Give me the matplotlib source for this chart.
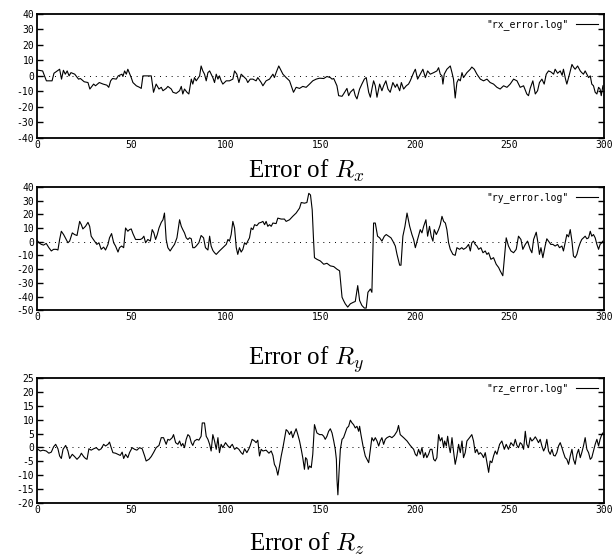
import matplotlib
matplotlib.use("Agg")
from matplotlib import pyplot as plt

# values (frame index, error)
rx_t = [0, 3, 5, 8, 9, 12, 13, 14, 15, 16, 17, 18, 20, 22, 23, 25, 27, 28, 30, 31,
        33, 35, 37, 38, 39, 40, 42, 43, 45, 45.5, 46.4, 47.3, 48.1, 49.9, 50.8, 52.6, 54.3, 55.2, 56.1, 60.5,
        61.7, 63.1, 64.6, 65.8, 66.7, 68.4, 69.3, 71.1, 72.0, 73.7, 75.5, 76.4, 77.2, 78.1, 79.4, 80.4, 81.7, 82.5, 83.4, 84.3,
        86.1, 86.9, 87.8, 88.7, 89.6, 90.5, 91.4, 93.1, 94.0, 94.9, 95.8, 96.6, 97.5, 98.4, 100.2, 101.9, 103.7, 104.6, 105.8, 106.9,
        108.1, 109.0, 110.8, 111.6, 112.9, 114.3, 116.0, 116.9, 118.7, 119.6, 121.3, 123.1, 124.9, 125.7, 126.6, 128.0, 129.3, 130.2, 131.9, 133.7,
        134.6, 135.8, 137.2, 139.0, 140.7, 142.5, 144.3, 146.0, 147.8, 149.6, 151.8, 153.5, 155.3, 156.2, 157.1, 158.8, 159.7, 161.5, 162.3, 164.1,
        165.0, 165.9, 167.6, 168.5, 169.4, 170.8, 172.0, 173.3, 174.3, 175.6, 176.5, 177.3, 178.2, 179.1, 180.0, 181.4, 182.6, 183.5, 184.7, 185.8,
        187.0, 188.4, 189.7, 190.6, 192.0, 192.9, 194.1, 195.5, 196.7, 197.6, 199.4, 200.3, 201.5, 202.9, 204.3, 205.6, 206.8, 208.2, 210.0, 211.7,
        212.6, 213.5, 214.4, 214.9, 215.6, 217.0, 218.8, 219.7, 220.5, 221.4, 222.3, 223.2, 224.1, 225.0, 225.8, 227.6, 229.4, 230.2, 231.5, 232.9,
        234.7, 236.4, 238.2, 239.9, 241.7, 243.5, 245.2, 247.0, 248.8, 250.5, 252.3, 254.1, 255.8, 257.6, 259.3, 260.2, 261.1, 262.5, 263.8, 265.0,
        266.0, 267.3, 268.5, 269.6, 270.8, 272.0, 273.5, 274.3, 275.6, 277.0, 278.0, 278.7, 279.8, 280.5, 281.9, 283.2, 284.0, 284.9, 286.2, 287.6,
        288.4, 289.3, 290.2, 291.1, 292.0, 292.9, 293.7, 294.6, 295.5, 296.4, 297.3, 298.1, 298.7, 299.6]
rx_err = [3.8, 3.2, -3.2, -3.2, 1.7, 4.3, -2.1, 3.6, 1.1, 3.2, 0, 2.1, 1.1, -2.1, -1.7, -3.8, -4.3, -8.5, -5.3, -6.4,
          -4.3, -5.3, -6.0, -7.4, -3.2, -1.7, -2.1, 0, 1.1, -0.4, 3.2, 1.1, 4.3, -1.1, -4.3, -6.4, -7.4, -8.1, 0, 0,
          -10.6, -5.3, -8.5, -7.4, -9.6, -8.1, -6.8, -8.5, -10.6, -11.3, -9.6, -6.8, -11.7, -8.5, -10.6, -11.7, -2.1, -5.3, -1.1, -3.2,
          0, 6.4, 3.2, 1.1, -3.2, 2.1, 3.2, -1.1, -4.3, 1.1, -2.1, 0, -3.2, -5.3, -3.2, -3.2, -2.1, 3.2, 1.1, -4.3,
          1.1, 0, -2.1, -4.3, -2.1, -2.1, -3.2, -1.1, -4.3, -6.4, -3.2, -2.1, 1.1, -1.1, 2.1, 6.4, 3.2, 1.1, -1.1, -3.2,
          -6.4, -10.6, -7.4, -8.1, -6.8, -7.4, -5.3, -3.2, -2.1, -1.5, -1.7, -0.4, -1.1, -2.1, -1.7, -6.4, -12.8, -13.2, -11.7, -8.1,
          -12.8, -10.6, -8.5, -12.8, -14.9, -8.5, -5.3, -2.1, -1.1, -10.6, -13.8, -8.5, -3.2, -6.4, -13.8, -5.3, -9.6, -6.4, -3.2, -8.5,
          -10.6, -4.3, -7.4, -5.3, -9.6, -4.3, -8.5, -6.4, -5.3, -3.2, 2.1, 4.3, -2.1, 1.1, 4.3, -1.1, 3.2, 1.1, 2.1, 3.2,
          5.3, 1.1, 0, -5.3, 1.1, 4.3, 6.4, 2.1, -2.1, -14.3, -4.3, -2.1, -3.2, 2.1, -1.1, 2.1, 4.3, 5.7, 4.3, 1.1,
          -2.1, -3.2, -2.1, -4.3, -5.3, -7.4, -8.5, -6.4, -7.4, -5.3, -2.1, -3.2, -7.4, -6.4, -11.7, -12.8, -8.1, -3.2, -11.7, -9.6,
          -4.3, -2.1, -5.3, 1.1, 3.2, 2.6, 1.1, 4.3, 1.7, 3.2, 0.4, 4.3, -2.1, -5.3, 1.1, 7.4, 5.7, 4.3, 6.4, 3.2,
          2.1, 1.1, 3.2, 1.1, -1.1, 0, -5.3, -6.4, -10.6, -11.7, -7.4, -8.5, -12.8, -6.4]

ry_t = [0, 1.1, 2.3, 3.5, 4.9, 6.3, 7.6, 8.8, 10.2, 11.1, 12.0, 12.9, 14.1, 15.5, 16.4, 17.3, 18.7, 19.9, 21.2, 22.6,
        23.5, 24.3, 25.7, 27.0, 27.9, 28.7, 29.6, 30.5, 31.7, 32.8, 34.0, 35.3, 36.3, 37.6, 38.4, 39.5, 40.6, 41.6, 42.9, 43.7,
        44.8, 45.9, 46.9, 48.1, 49.0, 49.9, 50.8, 52.2, 53.4, 54.7, 55.7, 56.6, 57.5, 58.7, 60.0, 61.0, 61.9, 62.8, 63.7, 64.6,
        65.8, 66.7, 67.5, 68.4, 69.3, 70.5, 71.6, 72.8, 74.1, 75.5, 76.4, 77.2, 78.1, 79.0, 79.9, 80.8, 81.7, 82.5, 83.4, 84.3,
        85.7, 86.9, 88.2, 89.2, 90.5, 91.4, 92.2, 93.1, 94.0, 94.9, 96.6, 98.4, 100.2, 101.1, 101.9, 102.8, 103.7, 104.6, 105.5, 106.3,
        107.2, 108.1, 109.0, 109.9, 110.8, 111.6, 112.5, 113.4, 114.3, 115.2, 116.4, 117.5, 118.7, 119.6, 120.5, 121.3, 122.2, 123.1, 124.0, 124.9,
        126.6, 127.5, 129.3, 131.0, 131.9, 133.7, 135.4, 137.2, 139.0, 139.9, 141.6, 142.9, 143.9, 144.8, 145.7, 146.4, 146.9, 148.2, 150.0, 151.8,
        153.5, 155.3, 157.1, 158.8, 160.2, 161.5, 162.3, 163.2, 164.5, 165.9, 167.6, 168.5, 169.8, 170.8, 172.0, 173.3, 174.3, 175.2, 176.5, 177.3,
        178.2, 179.1, 180.3, 181.4, 182.6, 183.9, 184.9, 186.2, 187.4, 188.4, 189.7, 190.6, 192.0, 192.7, 193.7, 194.8, 195.9, 197.3, 198.5, 199.4,
        200.3, 201.5, 202.9, 203.8, 204.7, 205.9, 206.8, 207.8, 208.7, 209.6, 210.3, 211.4, 212.6, 213.5, 214.4, 215.3, 216.2, 217.0, 217.9, 218.8,
        220.2, 221.4, 222.3, 223.7, 224.9, 225.8, 227.2, 228.5, 229.4, 230.2, 231.1, 232.0, 232.9, 233.8, 235.0, 236.1, 237.3, 238.2, 239.1, 240.3,
        241.7, 243.1, 244.4, 245.2, 246.6, 247.4, 248.4, 249.6, 250.9, 252.3, 253.7, 254.9, 256.2, 257.2, 258.5, 259.7, 261.1, 262.0, 262.9, 264.3,
        265.2, 266.0, 266.8, 267.8, 269.0, 269.9, 270.8, 272.0, 273.1, 274.3, 275.6, 276.6, 277.9, 278.7, 279.6, 280.5, 281.4, 282.3, 283.2, 284.0,
        284.9, 285.8, 286.7, 287.6, 288.4, 289.3, 290.2, 291.1, 292.0, 292.9, 293.7, 294.6, 295.5, 296.4, 297.3, 298.1, 299.0, 299.6]
ry_err = [1.2, -0.7, -1.9, -2.4, -1.2, -4.3, -6.7, -5.5, -5.5, -6.0, 1.7, 7.7, 5.3, 1.7, -0.7, 0.5, 6.5, 5.3, 4.6, 14.9,
          12.5, 9.4, 11.3, 14.2, 11.3, 4.1, 2.2, 0.5, -1.9, -0.7, -5.5, -3.9, -6.0, -1.9, 2.9, 6.0, -0.7, -3.1, -7.5, -4.3,
          -3.1, -4.3, 10.1, 7.7, 8.9, 9.4, 6.0, 1.7, 1.7, 1.7, 2.4, 4.1, -0.7, 1.7, 0.5, 8.9, 6.5, 1.7, 5.3, 10.1,
          14.2, 16.1, 21.0, 1.7, -4.3, -6.7, -4.3, -1.9, 2.9, 16.1, 11.3, 8.9, 6.5, 2.9, 1.7, 2.9, 2.2, -4.3, -4.3, -3.1,
          -0.7, 4.6, 2.9, -4.3, -6.0, 4.1, -3.1, -6.3, -8.0, -9.2, -6.7, -4.3, -1.9, 1.7, 0.5, 5.3, 14.9, 10.1, -4.3, -9.2,
          -4.3, -7.5, -5.5, -0.7, -1.9, 0.5, 2.9, 10.1, 8.9, 12.5, 11.8, 13.7, 14.2, 14.9, 12.5, 14.9, 11.3, 12.5, 11.3, 13.7,
          13.3, 17.3, 16.6, 16.6, 14.9, 16.1, 18.6, 21.0, 24.6, 28.7, 28.2, 28.7, 35.4, 34.2, 23.4, 1.7, -11.6, -12.8, -14.0, -16.4,
          -15.7, -17.6, -18.1, -20.0, -21.2, -40.5, -42.9, -45.3, -47.7, -45.3, -44.1, -43.6, -32.0, -42.9, -46.5, -48.4, -48.4, -36.9, -34.5, -36.9,
          13.7, 13.7, 4.1, 2.9, 0.5, 4.1, 5.3, 4.1, 2.9, 0.5, -3.1, -9.2, -17.1, -17.1, 4.1, 11.3, 21.0, 11.3, 5.3, 1.7,
          -4.3, 1.7, 8.9, 6.5, 11.3, 16.1, 4.1, 11.3, 4.1, 0.5, 8.9, 5.3, 8.9, 12.5, 18.6, 14.9, 13.7, 8.9, -0.7, -5.5,
          -9.2, -9.9, -4.3, -5.5, -4.3, -5.5, -4.3, -1.9, -6.7, -0.7, 0.5, -1.9, -3.1, -5.5, -4.3, -8.0, -6.7, -9.2, -8.0, -12.8,
          -11.6, -16.4, -18.8, -21.2, -24.8, -12.8, 2.9, -3.1, -6.7, -8.0, -5.5, 4.1, 1.7, -5.5, -1.9, 0.5, -5.5, -8.0, 1.7, 7.0,
          -0.7, -9.2, -4.3, -11.6, -3.1, 2.2, 0.5, -1.9, -1.9, -3.1, -1.9, -4.3, -3.1, -6.7, -0.7, 5.3, 3.6, 8.9, 0.5, -10.4,
          -11.6, -9.2, -4.3, -0.7, 1.7, 2.9, 4.1, 2.2, 2.9, 7.7, 4.1, 5.3, 2.9, -1.9, -5.5, -1.9, -0.7, 0.5]

rz_t = [0.5, 1.8, 3.2, 4.9, 6.3, 7.6, 8.8, 9.9, 11.1, 12.0, 12.9, 13.8, 15.2, 16.4, 17.3, 18.7, 19.9, 21.2, 22.6, 23.5,
        24.7, 25.7, 26.5, 27.5, 28.7, 30.0, 31.4, 32.8, 34.0, 35.3, 36.3, 37.6, 38.4, 39.3, 40.2, 41.6, 42.9, 44.1, 45.1, 45.9,
        46.9, 48.1, 49.0, 50.4, 51.7, 52.9, 54.3, 55.7, 57.0, 57.8, 59.3, 60.5, 61.7, 63.1, 64.6, 65.8, 67.0, 68.4, 69.3, 70.2,
        71.6, 72.3, 73.4, 74.6, 75.5, 76.4, 77.2, 78.1, 79.0, 79.9, 80.8, 81.7, 82.5, 83.4, 84.7, 85.7, 86.9, 87.5, 88.7, 89.6,
        90.5, 91.4, 92.2, 93.1, 94.0, 94.9, 95.8, 96.6, 97.5, 98.4, 99.8, 101.1, 101.9, 103.4, 104.6, 105.8, 106.9, 108.1, 109.0, 109.9,
        111.1, 112.2, 112.9, 113.9, 115.2, 116.0, 116.9, 117.8, 118.7, 119.6, 121.3, 122.8, 124.0, 124.9, 125.7, 126.6, 127.5, 128.4, 129.3, 130.2,
        131.0, 131.9, 132.8, 133.7, 134.6, 135.4, 136.3, 137.2, 138.1, 139.0, 139.9, 140.7, 141.6, 142.2, 142.9, 143.6, 144.3, 145.2, 146.0, 146.9,
        148.2, 149.6, 150.9, 151.8, 152.6, 153.5, 154.4, 155.3, 156.2, 157.1, 157.9, 158.5, 158.8, 159.3, 159.9, 160.6, 161.5, 162.3, 163.2, 164.1,
        165.0, 165.9, 166.8, 167.6, 168.5, 169.4, 170.3, 170.8, 171.5, 172.6, 173.8, 175.6, 176.5, 177.3, 178.2, 179.1, 180.0, 180.9, 181.7, 182.6,
        183.5, 184.4, 185.3, 186.7, 187.9, 189.2, 190.6, 191.4, 192.3, 194.1, 195.9, 197.6, 199.4, 200.3, 201.1, 202.0, 202.9, 203.8, 204.7, 205.6,
        206.4, 207.3, 208.2, 209.1, 210.0, 210.8, 211.7, 212.6, 213.5, 214.4, 215.3, 215.8, 216.7, 217.4, 218.1, 218.8, 219.7, 220.5, 221.4, 222.3,
        223.2, 224.1, 225.0, 225.8, 226.7, 227.6, 229.0, 230.2, 231.1, 232.0, 232.9, 233.8, 234.7, 235.5, 236.4, 237.3, 238.2, 239.1, 239.9, 240.8,
        241.7, 242.6, 243.5, 244.9, 246.1, 247.4, 248.4, 249.6, 250.9, 252.3, 253.2, 254.1, 254.9, 255.8, 256.7, 257.6, 258.5, 259.3, 260.2, 261.1,
        262.0, 262.9, 263.8, 264.6, 265.5, 266.4, 267.3, 268.2, 269.0, 269.9, 270.8, 271.7, 272.6, 273.5, 274.3, 275.2, 276.1, 277.0, 277.9, 278.7,
        279.6, 280.5, 281.4, 282.3, 283.2, 284.0, 284.9, 285.8, 286.7, 287.6, 288.4, 289.3, 290.2, 291.1, 292.0, 292.9, 293.7, 294.6, 295.5, 296.4,
        297.3, 298.1, 299.0, 299.6]
rz_err = [-0.7, -1.3, -1.0, -1.3, -2.1, -1.7, 0.2, 1.1, -0.5, -3.1, -4.0, -0.7, 0.7, -1.3, -4.0, -2.5, -3.3, -4.3, -3.3, -2.1,
          -3.3, -4.0, -4.3, -0.5, -1.0, -0.5, -0.1, -1.0, -0.5, 1.1, 0.5, 1.1, 1.9, -0.1, -1.9, -2.1, -2.5, -2.9, -1.7, -4.0,
          -2.5, -3.7, -1.9, -0.1, -0.7, -1.0, -0.1, -0.5, -3.1, -4.9, -4.3, -3.3, -1.9, -0.1, 0.7, 3.5, 3.5, 1.1, 2.9, 2.6,
          3.5, 4.6, 1.7, 1.1, 2.3, 0.5, 1.4, -0.1, 2.9, 4.6, 4.0, 1.7, 0.7, 2.3, 2.9, 2.6, 4.0, 8.8, 8.8, 4.0,
          2.9, 1.1, -1.3, 4.6, 2.3, -0.7, 3.5, -1.9, 1.1, -0.1, 1.7, 0.5, -0.1, 1.1, -0.7, -0.1, -0.7, -1.9, -2.5, -0.5,
          -1.9, -0.5, 0.7, 2.9, 2.3, 1.7, 2.6, -3.1, -0.7, -1.3, -1.0, -2.1, -1.3, -2.9, -6.1, -7.3, -10.0, -6.7, -3.1, -0.1,
          2.9, 6.4, 5.8, 4.6, 5.8, 3.5, 5.2, 6.7, 4.6, 2.3, -0.7, -3.7, -7.9, -3.7, -4.3, -7.9, -6.7, -7.3, -2.5, 8.2,
          5.2, 4.6, 4.6, 4.0, 2.9, 4.0, 5.8, 6.7, 5.2, 2.3, -0.7, -4.3, -11.4, -17.1, -9.0, -0.7, 2.9, 3.5, 5.2, 7.0,
          7.6, 9.8, 8.8, 8.2, 7.0, 7.6, 5.8, 7.6, 4.6, 0.5, -3.1, -5.5, -0.7, 3.5, 2.3, 3.5, 2.3, 0.5, 2.3, 3.5,
          1.1, 2.9, 3.5, 4.0, 3.5, 4.3, 5.8, 7.9, 4.6, 3.5, 2.3, 0.7, -0.7, -2.5, -3.1, -0.7, -2.5, -0.1, -3.7, -1.9,
          -3.7, -2.5, -0.7, -0.7, -4.3, -4.9, -3.7, 4.6, 2.3, 3.5, -0.1, 2.3, 0.5, 4.0, 0.5, -1.9, 3.5, -1.3, -6.1, -3.1,
          1.1, -1.9, 2.3, -3.7, -1.9, 2.3, 3.5, 4.6, 2.3, -1.9, -0.7, -2.5, -1.9, -2.5, -3.7, -1.9, -5.5, -9.0, -4.9, -5.5,
          -3.1, -1.3, -2.5, 1.1, 2.3, -0.7, 1.1, -0.7, 1.7, 0.5, 2.9, 0.7, -0.1, 1.7, 1.1, -0.7, 5.8, 1.1, -0.1, 3.5,
          2.3, 2.9, 3.8, 2.9, 1.7, 2.9, 0.5, -1.3, -0.1, 2.9, -1.3, -2.5, -0.7, -2.9, -3.1, -1.9, 0.5, 1.7, -0.1, -1.9,
          -3.7, -4.3, -6.1, -3.1, -0.7, -4.3, -6.1, -2.5, -0.7, -3.7, -1.9, 0.5, 3.5, -0.7, -1.9, -4.3, -3.7, -1.3, 1.1, 2.9,
          0.5, 2.9, 4.6, 5.2]

panels = [
    (rx_t, rx_err, '"rx_error.log"', (-40, 40), list(range(-40, 41, 10)), "x"),
    (ry_t, ry_err, '"ry_error.log"', (-50, 40), list(range(-50, 41, 10)), "y"),
    (rz_t, rz_err, '"rz_error.log"', (-20, 25), list(range(-20, 26, 5)), "z"),
]
x_ticks = [0, 50, 100, 150, 200, 250, 300]

plt.rcParams["axes.unicode_minus"] = False
plt.rcParams["mathtext.fontset"] = "cm"

fig = plt.figure(figsize=(6.16, 5.6), dpi=100)

# axes boxes (left, bottom, width, height) and caption baseline, in figure fractions
boxes = [
    ([0.060, 0.754, 0.920, 0.221], 0.683),
    ([0.060, 0.446, 0.920, 0.220], 0.349),
    ([0.060, 0.102, 0.920, 0.223], 0.017),
]

for (t, err, name, ylim, yticks, sub), (box, cap_y) in zip(panels, boxes):
    ax = fig.add_axes(box)
    ax.plot(t, err, color="black", lw=0.8, label=name)
    ax.axhline(0, color="black", lw=0.7, ls=(0, (1, 5)))
    ax.set_xlim(0, 300)
    ax.set_ylim(*ylim)
    ax.set_xticks(x_ticks)
    ax.set_yticks(yticks)
    ax.tick_params(axis="y", direction="in", length=4, width=1, right=True,
                   labelsize=7, pad=2)
    ax.tick_params(axis="x", direction="in", length=0, labelsize=7, pad=1.5)
    for lab in ax.get_xticklabels() + ax.get_yticklabels():
        lab.set_family("DejaVu Sans Mono")
    for sp in ax.spines.values():
        sp.set_linewidth(1.3)
    ax.legend(loc="upper right", frameon=False, markerfirst=False,
              handlelength=2.3, borderaxespad=0.15, handletextpad=0.8,
              prop={"family": "DejaVu Sans Mono", "size": 7})
    fig.text(0.497, cap_y, "Error of $R_%s$" % sub, ha="center", va="baseline",
             fontsize=18, family="Liberation Serif")

fig.savefig("out.png", dpi=100)
